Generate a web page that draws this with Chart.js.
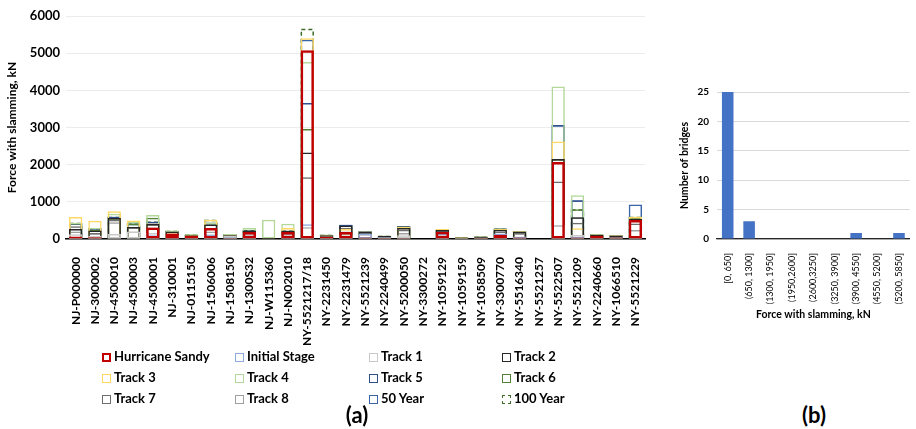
<!DOCTYPE html>
<html>
<head>
<meta charset="utf-8">
<script src="https://cdn.jsdelivr.net/npm/chart.js@4.4.1/dist/chart.umd.min.js"></script>
<style>
  html, body { margin: 0; padding: 0; background: #fff; }
  #wrap { position: relative; width: 916px; height: 429px; background: #fff; font-family: Lato, "Liberation Sans", sans-serif; }
  #boxA { position: absolute; left: 0; top: 0; }
  #boxB { position: absolute; left: 660px; top: 60px; }
  .lg { position: absolute; font-weight: bold; font-size: 13px; color: #000; white-space: nowrap; line-height: 14px; }
  .lg i { display: inline-block; width: 7px; height: 7px; border: 1.5px solid #000; margin-right: 3px; vertical-align: -1px; box-sizing: content-box; }
  .tag { position: absolute; font-weight: bold; font-size: 22px; color: #000; transform: translate(-50%, -50%); }
</style>
</head>
<body>
<div id="wrap">
  <canvas id="boxA" width="660" height="352"></canvas>
  <canvas id="boxB" width="256" height="270"></canvas>
  <div id="legend"></div>
  <div class="tag" style="left:357px;top:414px">(a)</div>
  <div class="tag" style="left:814px;top:414px">(b)</div>
</div>
<script>
// bridges (a)
var bridges = ["NJ-P000000","NJ-3000002","NJ-4500010","NJ-4500003","NJ-4500001","NJ-310001","NJ-0115150","NJ-1506006","NJ-1508150","NJ-1300S32","NJ-W115360","NJ-N002010","NY-5521217/18","NY-2231450","NY-2231479","NY-5521239","NY-2240499","NY-5200050","NY-3300272","NY-1059129","NY-1059159","NY-1058509","NY-3300770","NY-5516340","NY-5521257","NY-5522507","NY-5521209","NY-2240660","NY-1066510","NY-5521229"];

var sandy   = [70, 50, 20, 20, 312, 150, 80, 295, 30, 188, 10, 188, 5080, 60, 188, 40, 30, 30, 0, 196, 20, 30, 115, 40, 0, 2070, 40, 90, 40, 510];
var initial = [40, 30, 30, 30, 100, 60, 60, 120, 50, 80, 10, 60, 400, 50, 80, 150, 40, 30, 0, 150, 20, 30, 150, 60, 0, 30, 60, 60, 40, 40];
var track1  = [125, 90, 135, 205, 160, 100, 90, 120, 90, 130, 15, 120, 320, 70, 100, 120, 50, 100, 0, 120, 25, 40, 120, 70, 0, 370, 107, 70, 50, 80];
var track2  = [270, 230, 565, 320, 403, 205, 100, 393, 100, 230, 15, 223, 2330, 100, 360, 190, 80, 295, 0, 240, 40, 60, 250, 200, 0, 2150, 583, 110, 90, 540];
var track3  = [590, 490, 750, 500, 420, 190, 110, 520, 100, 200, 15, 295, 5400, 100, 270, 200, 80, 330, 0, 268, 45, 70, 270, 210, 0, 2620, 287, 120, 100, 600];
var track4  = [440, 300, 680, 460, 645, 225, 125, 447, 133, 295, 520, 410, 4760, 115, 150, 205, 88, 300, 0, 268, 40, 65, 285, 215, 0, 4100, 1180, 125, 90, 600];
var track5  = [430, 295, 600, 457, 465, 210, 110, 393, 120, 230, 15, 223, 3660, 110, 385, 210, 80, 340, 0, 250, 40, 60, 280, 210, 0, 3070, 1040, 115, 100, 540];
var track6  = [420, 240, 565, 410, 573, 225, 120, 400, 125, 230, 20, 223, 2960, 115, 380, 205, 85, 340, 0, 260, 42, 65, 285, 215, 0, 2150, 800, 120, 100, 580];
var track7  = [340, 160, 520, 320, 403, 200, 100, 295, 100, 200, 15, 200, 1660, 100, 300, 195, 75, 250, 0, 235, 35, 55, 205, 160, 0, 1550, 438, 100, 85, 420];
var track8  = [200, 160, 450, 205, 312, 150, 90, 205, 90, 130, 15, 150, 320, 80, 200, 160, 60, 160, 0, 200, 30, 45, 205, 160, 0, 370, 583, 90, 70, 240];
var year50  = [430, 295, 600, 410, 465, 210, 110, 447, 120, 230, 15, 223, 5360, 110, 385, 210, 80, 340, 0, 268, 40, 65, 285, 215, 0, 3070, 1040, 125, 100, 930];
var year100 = [440, 290, 600, 430, 470, 225, 120, 520, 125, 240, 20, 230, 5660, 115, 370, 210, 85, 340, 0, 268, 45, 70, 285, 215, 0, 2150, 800, 125, 100, 600];

var yTicksA = [0, 1000, 2000, 3000, 4000, 5000, 6000];

// histogram (b)
var bins = ["[0, 650]","(650, 1300]","(1300, 1950]","(1950,2600]","(2600,3250]","(3250, 3900]","(3900, 4550]","(4550, 5200]","(5200, 5850]"];
var counts = [25, 3, 0, 0, 0, 0, 1, 0, 1];
var yTicksB = [0, 5, 10, 15, 20, 25];

var series = [
  { label: "Hurricane Sandy", data: sandy,   color: "#C00000", w: 2.5 },
  { label: "Initial Stage",   data: initial, color: "#8FAADC", w: 1.5 },
  { label: "Track 1",         data: track1,  color: "#C9C9C9", w: 1.5 },
  { label: "Track 2",         data: track2,  color: "#262626", w: 1.5 },
  { label: "Track 3",         data: track3,  color: "#FFD966", w: 1.5 },
  { label: "Track 4",         data: track4,  color: "#B4D89A", w: 1.5 },
  { label: "Track 5",         data: track5,  color: "#2F4F8F", w: 1.5 },
  { label: "Track 6",         data: track6,  color: "#548235", w: 1.5 },
  { label: "Track 7",         data: track7,  color: "#6E6E6E", w: 1.5 },
  { label: "Track 8",         data: track8,  color: "#A0A0A0", w: 1.5 },
  { label: "50 Year",         data: year50,  color: "#3A64A8", w: 1.5 },
  { label: "100 Year",        data: year100, color: "#3E6B2A", w: 1.5, dashed: true }
];

var FONT = "Lato, 'Liberation Sans', sans-serif";

// dashed outline for the 100 Year bars, drawn in dataset order
var dashBars = {
  id: "dashBars",
  afterDatasetDraw: function(chart, args) {
    var ds = chart.data.datasets[args.index];
    if (!ds.dashed) return;
    var ctx = chart.ctx;
    ctx.save();
    ctx.strokeStyle = ds.dashColor;
    ctx.lineWidth = 1.5;
    ctx.setLineDash([4, 3]);
    args.meta.data.forEach(function(bar) {
      var p = bar.getProps(["x", "y", "base", "width"], true);
      if (Math.abs(p.base - p.y) < 0.5) return;
      ctx.strokeRect(p.x - p.width / 2 + 0.75, p.y + 0.75, p.width - 1.5, p.base - p.y - 1.5);
    });
    ctx.restore();
  }
};

var dsA = series.map(function(s) {
  return {
    label: s.label,
    data: s.data,
    backgroundColor: "rgba(0,0,0,0)",
    borderColor: s.dashed ? "rgba(0,0,0,0)" : s.color,
    borderWidth: s.dashed ? 0 : s.w,
    borderSkipped: false,
    grouped: false,
    categoryPercentage: 0.72,
    barPercentage: 0.96,
    dashed: !!s.dashed,
    dashColor: s.color
  };
});

function plain(v) { return String(v); }

new Chart(document.getElementById("boxA"), {
  type: "bar",
  data: { labels: bridges, datasets: dsA },
  plugins: [dashBars],
  options: {
    responsive: false,
    animation: false,
    layout: { padding: { top: 16, right: 13, left: 0, bottom: 0 } },
    plugins: { legend: { display: false }, tooltip: { enabled: false } },
    scales: {
      x: {
        grid: { display: false },
        border: { display: true, color: "#000", width: 1.5 },
        ticks: { autoSkip: false, minRotation: 90, maxRotation: 90, padding: 10, color: "#000", font: { family: FONT, weight: "bold", size: 12 } },
        afterFit: function(s) { s.height = 113; }
      },
      y: {
        min: 0, max: 6000,
        afterBuildTicks: function(s) { s.ticks = yTicksA.map(function(v) { return { value: v }; }); },
        grid: { color: "#ECECEC", drawTicks: false },
        border: { display: false },
        ticks: { padding: 6, color: "#000", callback: plain, font: { family: FONT, weight: "bold", size: 13 } },
        title: { display: true, text: "Force with slamming, kN", color: "#000", padding: { top: 5, bottom: 0 }, font: { family: FONT, weight: "bold", size: 12 } },
        afterFit: function(s) { s.width = 66; }
      }
    }
  }
});

new Chart(document.getElementById("boxB"), {
  type: "bar",
  data: { labels: bins, datasets: [{ data: counts, backgroundColor: "#4472C4", categoryPercentage: 0.6, barPercentage: 0.9 }] },
  options: {
    responsive: false,
    animation: false,
    layout: { padding: { top: 32, right: 4, left: 0, bottom: 0 } },
    plugins: { legend: { display: false }, tooltip: { enabled: false } },
    scales: {
      x: {
        grid: { display: false },
        border: { display: true, color: "#262626", width: 1.2 },
        ticks: { autoSkip: false, minRotation: 90, maxRotation: 90, padding: 6, color: "#000", font: { family: FONT, size: 9 } },
        title: { display: true, text: "Force with slamming, kN", color: "#000", padding: { top: 4, bottom: 9 }, font: { family: FONT, weight: "bold", size: 10.5 } },
        afterFit: function(s) { s.height = 91; }
      },
      y: {
        min: 0, max: 25,
        afterBuildTicks: function(s) { s.ticks = yTicksB.map(function(v) { return { value: v }; }); },
        ticks: { padding: 8, color: "#000", callback: plain, font: { family: FONT, weight: "bold", size: 10 } },
        grid: { color: "#D9D9D9", drawTicks: false },
        border: { display: false },
        title: { display: true, text: "Number of bridges", color: "#000", padding: { top: 18, bottom: 0 }, font: { family: FONT, weight: "bold", size: 10.5 } },
        afterFit: function(s) { s.width = 57; }
      }
    }
  }
});

// legend (a): 4 columns x 3 rows
var legCols = [102, 235, 369, 502];
var legRows = [356, 377, 398];
var legend = document.getElementById("legend");
series.forEach(function(s, i) {
  var d = document.createElement("div");
  d.className = "lg";
  d.style.left = legCols[i % 4] + "px";
  d.style.top = (legRows[Math.floor(i / 4)] - 7) + "px";
  var box = document.createElement("i");
  box.style.borderColor = s.color;
  if (s.dashed) box.style.borderStyle = "dashed";
  if (s.w > 2) { box.style.borderWidth = "2.5px"; box.style.width = "5px"; box.style.height = "5px"; }
  d.appendChild(box);
  d.appendChild(document.createTextNode(s.label));
  legend.appendChild(d);
});
</script>
</body>
</html>
